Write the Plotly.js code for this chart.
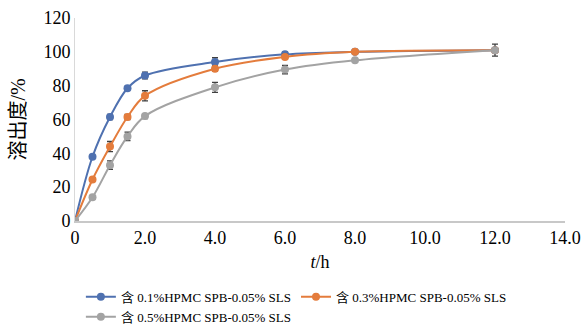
<!DOCTYPE html>
<html>
<head>
<meta charset="utf-8">
<script src="https://cdn.plot.ly/plotly-3.0.1.min.js"></script>
<style>html,body{margin:0;padding:0;background:#fff;}#chart{width:581px;height:327px;}</style>
</head>
<body>
<div id="chart"></div>
<script>
var timeH = [0, 0.5, 1, 1.5, 2, 4, 6, 8, 12];
var seriesNames = ["含 0.1%HPMC SPB-0.05% SLS", "含 0.3%HPMC SPB-0.05% SLS", "含 0.5%HPMC SPB-0.05% SLS"];
var dissolution01 = [0, 38, 61.5, 78.5, 86, 94, 98.5, 100, 101];
var dissolution03 = [0, 24.5, 44, 61.5, 74, 90, 97, 100, 101];
var dissolution05 = [0, 14, 33, 50, 62, 79, 89.5, 95, 101];
var err01 = [0, 1, 1.5, 1, 2, 2.5, 1.5, 1, 1];
var err03 = [0, 1, 3, 1.5, 3, 1.5, 1.5, 1, 1];
var err05 = [0, 1, 2.5, 2.5, 1.5, 3, 2.5, 1, 3.5];
var xTickVals = [0, 2, 4, 6, 8, 10, 12, 14];
var xTickText = ["0", "2.0", "4.0", "6.0", "8.0", "10.0", "12.0", "14.0"];

var colors = ["#4f71b0", "#e47c3c", "#a3a3a3"];
var serif = "Liberation Serif, Times New Roman, Noto Sans CJK SC, serif";

function mk(y, e, name, c) {
  return {
    x: timeH, y: y, name: name, type: "scatter", mode: "lines+markers",
    line: {color: c, width: 2, shape: "spline", smoothing: 1},
    marker: {color: c, size: 8, symbol: "circle"},
    error_y: {type: "data", array: e, visible: true, color: "#404040", thickness: 1.3, width: 3}
  };
}
var data = [
  mk(dissolution01, err01, seriesNames[0], colors[0]),
  mk(dissolution03, err03, seriesNames[1], colors[1]),
  mk(dissolution05, err05, seriesNames[2], colors[2])
];
var layout = {
  width: 581, height: 327,
  margin: {l: 75, r: 16, t: 18, b: 106},
  paper_bgcolor: "#fff", plot_bgcolor: "#fff",
  font: {family: serif, color: "#000", size: 18},
  xaxis: {
    range: [0, 14], tickvals: xTickVals, ticktext: xTickText,
    showgrid: false, zeroline: false, showline: true, linecolor: "#c8c8c8", linewidth: 1.5,
    ticks: "", tickfont: {size: 18, family: serif},
    title: {text: "<i>t</i>/h", font: {size: 18, family: serif}, standoff: 8}
  },
  yaxis: {
    range: [0, 120], dtick: 20,
    showgrid: false, zeroline: false, showline: true, linecolor: "#d9d9d9", linewidth: 1,
    ticks: "", tickfont: {size: 18, family: serif},
    title: {text: "溶出度/%", font: {size: 20, family: serif}, standoff: 12}
  },
  showlegend: true,
  legend: {
    orientation: "h", xref: "paper", x: 0.012, xanchor: "left",
    yref: "container", y: 0.138, yanchor: "top",
    font: {size: 13, family: serif}, tracegroupgap: 0, itemwidth: 30
  }
};
Plotly.newPlot("chart", data, layout, {displayModeBar: false, staticPlot: true});
</script>
</body>
</html>
